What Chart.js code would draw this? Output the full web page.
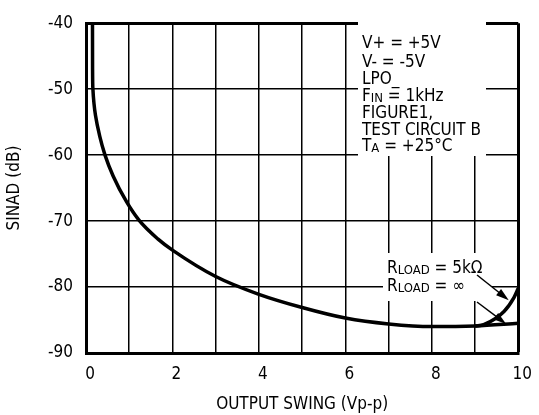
<!DOCTYPE html>
<html>
<head>
<meta charset="utf-8">
<script src="https://cdn.jsdelivr.net/npm/chart.js@4.4.1/dist/chart.umd.min.js"></script>
<style>
html, body { margin: 0; padding: 0; background: #fff; }
</style>
</head>
<body>
<canvas id="myChart" width="539" height="415"></canvas>
<script>
/* Curves */
var swingInf = [0.15, 0.152, 0.16, 0.185, 0.22, 0.32, 0.44, 0.63, 0.94, 1.23, 1.66, 2, 3, 4, 5, 6, 7, 8, 9, 10];
var sinadInf = [-40, -47, -50, -52.2, -54, -57.2, -60, -63.2, -67.1, -69.9, -72.7, -74.4, -78.4, -81.1, -83.1, -84.7, -85.6, -86.0, -85.9, -85.5];
var swing5k = [9.0, 9.2, 9.67, 9.9, 10];
var sinad5k = [-85.9, -85.7, -83.7, -81.6, -80.2];
var xLabels = [0, 2, 4, 6, 8, 10];

/* condition text, [text, isSubscript] */
var condLines = [
  [['V+ = +5V', 0]],
  [['V- = -5V', 0]],
  [['LPO_', 0]],
  [['F', 0], ['IN', 1], [' = 1kHz', 0]],
  [['FIGURE1,', 0]],
  [['TEST CIRCUIT B', 0]],
  [['T', 0], ['A', 1], [' = +25\u00B0C', 0]]
];
var loadLines = [
  [['R', 0], ['LOAD', 1], [' = 5k\u03A9', 0]],
  [['R', 0], ['LOAD', 1], [' = \u221E', 0]]
];

var FONT = "'Liberation Sans Narrow', 'DejaVu Sans Condensed', sans-serif";

function toPts(xs, ys) {
  return xs.map(function (x, i) { return { x: x, y: ys[i] }; });
}

function richText(ctx, parts, x, y) {
  parts.forEach(function (p) {
    ctx.font = (p[1] ? '13px ' : '17px ') + FONT;
    ctx.fillText(p[0], x, y + (p[1] ? 2 : 0));
    x += ctx.measureText(p[0]).width;
  });
}

function arrow(ctx, x1, y1, x2, y2) {
  var a = Math.atan2(y2 - y1, x2 - x1);
  ctx.beginPath();
  ctx.moveTo(x1, y1);
  ctx.lineTo(x2 - 8 * Math.cos(a), y2 - 8 * Math.sin(a));
  ctx.stroke();
  ctx.beginPath();
  ctx.moveTo(x2, y2);
  ctx.lineTo(x2 - 13 * Math.cos(a) + 4 * Math.sin(a), y2 - 13 * Math.sin(a) - 4 * Math.cos(a));
  ctx.lineTo(x2 - 13 * Math.cos(a) - 4 * Math.sin(a), y2 - 13 * Math.sin(a) + 4 * Math.cos(a));
  ctx.closePath();
  ctx.fill();
}

var notes = {
  id: 'notes',
  beforeDatasetsDraw: function (chart) {
    var ctx = chart.ctx;
    ctx.save();
    ctx.fillStyle = '#fff';
    ctx.fillRect(358, 22, 128, 134);
    ctx.fillRect(383, 253, 109, 48);
    ctx.fillStyle = '#000';
    ctx.textBaseline = 'middle';
    var ys = [44, 63, 80, 97, 114, 131, 147];
    condLines.forEach(function (l, i) { richText(ctx, l, 362, ys[i]); });
    richText(ctx, loadLines[0], 387, 269);
    richText(ctx, loadLines[1], 387, 287);
    ctx.restore();
  },
  afterDatasetsDraw: function (chart) {
    var ctx = chart.ctx, xs = chart.scales.x, ys = chart.scales.y;
    ctx.save();
    ctx.strokeStyle = '#000';
    ctx.fillStyle = '#000';
    ctx.lineWidth = 1.5;
    arrow(ctx, 477, 275, xs.getPixelForValue(9.78), ys.getPixelForValue(-82.0));
    arrow(ctx, 477, 302, xs.getPixelForValue(9.72), ys.getPixelForValue(-85.6));
    ctx.restore();
  }
};

new Chart('myChart', {
  type: 'scatter',
  data: {
    datasets: [{
      data: toPts(swingInf, sinadInf),
      showLine: true,
      borderColor: '#000',
      borderWidth: 3.5,
      pointRadius: 0,
      cubicInterpolationMode: 'monotone'
    }, {
      data: toPts(swing5k, sinad5k),
      showLine: true,
      borderColor: '#000',
      borderWidth: 3.5,
      pointRadius: 0,
      cubicInterpolationMode: 'monotone'
    }]
  },
  options: {
    responsive: false,
    animation: false,
    devicePixelRatio: 1,
    layout: { padding: { left: 0, right: 18, top: 12, bottom: 0 } },
    plugins: { legend: { display: false }, tooltip: { enabled: false } },
    scales: {
      x: {
        type: 'linear',
        min: 0,
        max: 10,
        afterFit: function (s) { s.height = 62; },
        ticks: {
          stepSize: 1,
          autoSkip: false,
          maxRotation: 0,
          padding: 11,
          labelOffset: 4,
          color: '#000',
          font: { family: FONT, size: 17 },
          callback: function (v) { return xLabels.indexOf(v) >= 0 ? String(v) : ''; }
        },
        grid: {
          color: '#000',
          drawTicks: false,
          lineWidth: function (c) { return c.tick && c.tick.value === 10 ? 3 : 1.5; }
        },
        border: { display: true, color: '#000', width: 3 },
        title: {
          display: true,
          text: 'OUTPUT SWING (Vp-p)',
          color: '#000',
          font: { family: FONT, size: 17 },
          padding: { top: 6, bottom: 0 }
        }
      },
      y: {
        min: -90,
        max: -40,
        afterFit: function (s) { s.width = 86; },
        ticks: {
          stepSize: 10,
          padding: 13,
          color: '#000',
          font: { family: FONT, size: 17 }
        },
        grid: {
          color: '#000',
          drawTicks: false,
          lineWidth: function (c) { return c.tick && c.tick.value === -40 ? 3 : 1.5; }
        },
        border: { display: true, color: '#000', width: 3 },
        title: {
          display: true,
          text: 'SINAD (dB)',
          color: '#000',
          font: { family: FONT, size: 17 },
          padding: { top: 4, bottom: 0 }
        }
      }
    }
  },
  plugins: [notes]
});
</script>
</body>
</html>
